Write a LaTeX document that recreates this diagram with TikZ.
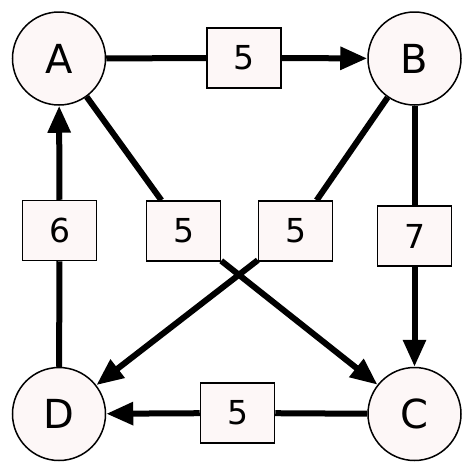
\documentclass[tikz,border=0pt]{standalone}
\usepackage{fontspec}
\setmainfont{DejaVu Sans}
\usetikzlibrary{arrows.meta}
\definecolor{nodefill}{RGB}{253,247,247}
\begin{document}
\begin{tikzpicture}[x=1pt,y=-1pt,
  vertex/.style={circle,draw=black,line width=1.5pt,fill=nodefill,minimum size=93pt,inner sep=0pt,font=\fontsize{40}{40}\selectfont},
  weight/.style={rectangle,draw=black,line width=1.5pt,fill=nodefill,minimum width=74pt,minimum height=60pt,inner sep=0pt,font=\fontsize{33}{33}\selectfont},
  edge/.style={line width=6pt},
  arr/.style={line width=6pt,-{Triangle[length=27pt,width=22pt]}}]
\useasboundingbox (0,0) rectangle (474,474);
\node[vertex] (A) at (59,58.5) {A};
\node[vertex] (B) at (414.5,58.5) {B};
\node[vertex] (C) at (414.5,414) {C};
\node[vertex] (D) at (59,414) {D};
\node[weight] (wAB) at (244,58) {5};
\node[weight] (wBC) at (414.5,236) {7};
\node[weight] (wCD) at (237.5,413) {5};
\node[weight] (wDA) at (59.5,230.5) {6};
\node[weight] (wAC) at (183.5,231) {5};
\node[weight] (wBD) at (295.5,231) {5};
\draw[edge] (A) -- (wAB);
\draw[arr] (wAB) -- (B);
\draw[edge] (B) -- (wBC);
\draw[arr] (wBC) -- (C);
\draw[edge] (C) -- (wCD);
\draw[arr] (wCD) -- (D);
\draw[edge] (D) -- (wDA);
\draw[arr] (wDA) -- (A);
\draw[edge] (A) -- (wAC);
\draw[arr] (wAC) -- (C);
\draw[edge] (B) -- (wBD);
\draw[arr] (wBD) -- (D);
\end{tikzpicture}
\end{document}
